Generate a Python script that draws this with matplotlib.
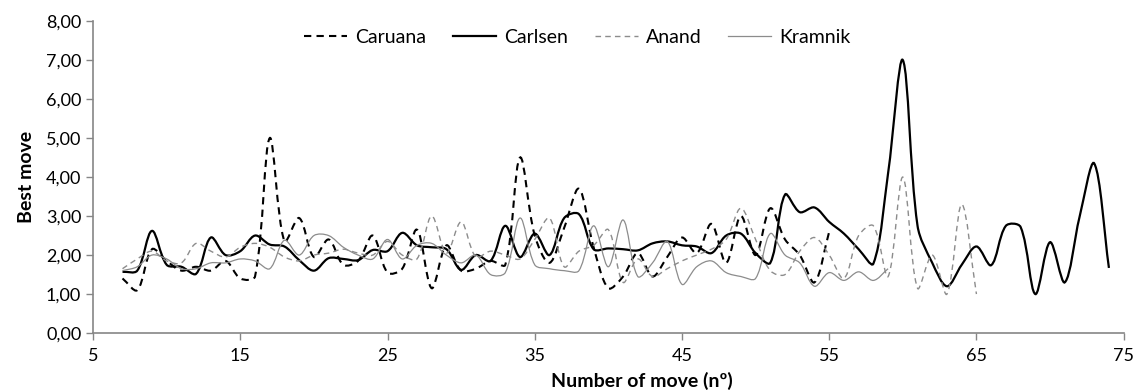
import numpy as np
import matplotlib
matplotlib.use("Agg")
import matplotlib.pyplot as plt
from matplotlib.path import Path
from matplotlib.patches import PathPatch
from matplotlib.lines import Line2D
from matplotlib.ticker import FuncFormatter, MultipleLocator

plt.rcParams["font.family"] = ["Lato", "DejaVu Sans"]

# best-move values per move number
caruana_moves = list(range(7, 56))
caruana = [1.40, 1.10, 2.15, 1.85, 1.60, 1.70, 1.60, 1.85, 1.40, 1.45,
           5.00, 2.35, 2.95, 1.95, 2.40, 1.75, 1.85, 2.50, 1.55, 1.65,
           2.65, 1.15, 2.25, 1.60, 1.65, 1.85, 1.75, 4.50, 2.50, 1.80,
           2.70, 3.70, 2.20, 1.15, 1.45, 2.05, 1.45, 1.95, 2.45, 2.05,
           2.80, 1.80, 3.00, 2.00, 3.20, 2.40, 2.00, 1.30, 2.60]

carlsen_moves = list(range(7, 75))
carlsen = [1.57, 1.60, 2.62, 1.75, 1.70, 1.52, 2.45, 2.00, 2.10, 2.50,
           2.27, 2.22, 1.87, 1.60, 1.92, 1.90, 1.87, 2.13, 2.10, 2.57,
           2.25, 2.20, 2.15, 1.62, 2.00, 1.85, 2.75, 1.95, 2.55, 2.00,
           2.95, 3.05, 2.15, 2.17, 2.15, 2.12, 2.30, 2.35, 2.25, 2.22,
           2.05, 2.50, 2.55, 2.05, 1.80, 3.55, 3.10, 3.22, 2.85, 2.55,
           2.15, 1.78, 4.10, 7.00, 2.75, 1.80, 1.20, 1.75, 2.22, 1.74,
           2.75, 2.72, 1.00, 2.33, 1.30, 2.97, 4.35, 1.67]

anand_moves = list(range(7, 66))
anand = [1.65, 1.90, 2.10, 1.85, 1.80, 2.30, 2.10, 1.95, 2.20, 2.30,
         2.20, 1.95, 1.85, 2.00, 2.05, 2.15, 2.05, 2.00, 2.35, 2.00,
         1.90, 3.00, 2.05, 2.85, 1.95, 2.10, 2.00, 1.90, 2.40, 2.95,
         1.70, 2.10, 2.25, 2.65, 1.30, 1.90, 1.45, 1.65, 1.85, 2.00,
         2.15, 2.40, 3.20, 2.40, 1.60, 1.50, 2.10, 2.45, 2.00, 1.40,
         2.50, 2.75, 1.45, 4.00, 1.15, 2.00, 1.00, 3.30, 1.00]

kramnik_moves = list(range(7, 60))
kramnik = [1.60, 1.70, 2.00, 1.90, 1.65, 1.65, 1.80, 1.80, 1.90, 1.85,
           1.65, 2.38, 2.00, 2.50, 2.50, 2.20, 2.00, 1.90, 2.40, 1.90,
           2.25, 2.30, 2.00, 1.80, 2.00, 1.50, 1.55, 2.95, 1.75, 1.65,
           1.60, 1.60, 2.75, 1.70, 2.90, 1.45, 1.80, 2.35, 1.25, 1.70,
           1.85, 1.55, 1.45, 1.40, 2.55, 2.00, 1.80, 1.20, 1.55, 1.35,
           1.57, 1.35, 1.65]

x_ticks = [5, 15, 25, 35, 45, 55, 65, 75]


def smooth_path(ax, xs, ys):
    """Excel-like smoothed line: cubic Bezier segments whose control arms
    are scaled by on-screen chord lengths (limits overshoot next to spikes)."""
    pts = np.column_stack([xs, ys]).astype(float)
    scr = ax.transData.transform(pts)
    n = len(pts)
    seg = np.hypot(*np.diff(scr, axis=0).T)

    def arm(i, j):
        # tangent at point i, arm length toward neighbour j
        prev = pts[i - 1] if i > 0 else pts[i]
        nxt = pts[i + 1] if i + 1 < n else pts[i]
        d_prev = seg[i - 1] if i > 0 else 0.0
        d_next = seg[i] if i + 1 < n else 0.0
        d_side = d_next if j > i else d_prev
        tot = d_prev + d_next
        if tot == 0:
            return np.zeros(2)
        return (nxt - prev) * d_side / tot / 3.0

    verts = [pts[0]]
    codes = [Path.MOVETO]
    for i in range(n - 1):
        verts += [pts[i] + arm(i, i + 1), pts[i + 1] - arm(i + 1, i), pts[i + 1]]
        codes += [Path.CURVE4] * 3
    return Path(verts, codes)


series = [
    ("Caruana", caruana_moves, caruana, dict(color="black", lw=1.5, ls=(0, (3.5, 2.5)))),
    ("Carlsen", carlsen_moves, carlsen, dict(color="black", lw=1.6, ls="-")),
    ("Anand", anand_moves, anand, dict(color="#8c8c8c", lw=1.0, ls=(0, (4, 3)))),
    ("Kramnik", kramnik_moves, kramnik, dict(color="#8c8c8c", lw=0.9, ls="-")),
]

fig = plt.figure(figsize=(11.35, 3.9), dpi=100)
ax = fig.add_axes([0.082, 0.146, 0.908, 0.800])
ax.set_xlim(5, 75)
ax.set_ylim(0, 8)

handles = []
for name, xs, ys, st in series:
    patch = PathPatch(smooth_path(ax, xs, ys), facecolor="none", edgecolor=st["color"],
                      lw=st["lw"], linestyle=st["ls"], capstyle="butt")
    ax.add_patch(patch)
    handles.append(Line2D([], [], color=st["color"], lw=st["lw"], linestyle=st["ls"],
                          label=name))

ax.set_xticks(x_ticks)
ax.yaxis.set_major_locator(MultipleLocator(1))
ax.yaxis.set_major_formatter(FuncFormatter(lambda v, p: f"{v:.2f}".replace(".", ",")))

for side in ("top", "right"):
    ax.spines[side].set_visible(False)
for side in ("left", "bottom"):
    ax.spines[side].set_color("#868686")
    ax.spines[side].set_linewidth(1.2)
ax.tick_params(axis="both", colors="#868686", labelcolor="black", labelsize=13,
               length=5, width=1.0)
ax.tick_params(axis="x", pad=6)

ax.set_xlabel("Number of move (nº)", fontsize=14, fontweight="bold")
ax.xaxis.set_label_coords(0.533, -0.125)
ax.set_ylabel("Best move", fontsize=14, fontweight="bold", labelpad=8)

ax.legend(handles=handles, loc="upper center", bbox_to_anchor=(0.47, 1.03), ncol=4,
          frameon=False, fontsize=14, handlelength=2.2, handletextpad=0.4,
          columnspacing=1.4)

fig.savefig("out.png", dpi=100)
